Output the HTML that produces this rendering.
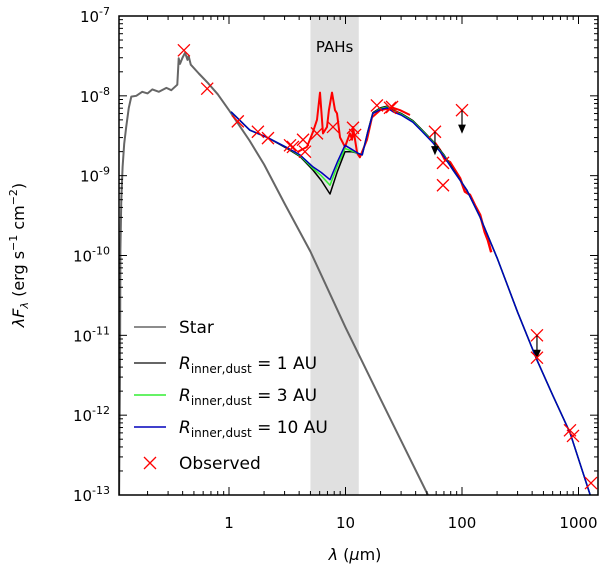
<!DOCTYPE html>
<html><head><meta charset="utf-8"><style>
body{margin:0;background:#fff}
svg{display:block;font-family:"DejaVu Sans","Liberation Sans",sans-serif}
</style></head><body>
<svg id="c" width="600" height="573" xmlns="http://www.w3.org/2000/svg"></svg>
<script>
const starLam=[0.114,0.116,0.117,0.119,0.122,0.126,0.131,0.138,0.145,0.16,0.18,0.2,0.22,0.25,0.29,0.32,0.36,0.37,0.38,0.40,0.42,0.44,0.45,0.47,0.55,0.66,0.8,1.0,1.5,2.0,3.0,5.0,10,20,51];
const starLogF=[-13,-11.5,-9.93,-9.3,-8.89,-8.6,-8.39,-8.15,-8.01,-8.0,-7.95,-7.97,-7.92,-7.95,-7.90,-7.93,-7.86,-7.53,-7.6,-7.52,-7.46,-7.55,-7.5,-7.61,-7.72,-7.84,-7.98,-8.18,-8.56,-8.86,-9.35,-9.95,-10.9,-11.8,-13];
const modLam=[1.04,1.51,2.12,3.15,4.07,5.26,6.2,7.36,8.5,9.9,11.3,12.8,13.9,15.5,17.2,20,22.7,25.6,30,37.9,45,56.4,70,83.7,110,143,200,300,440,600,845,1260];
const m1LogF=[-8.20,-8.43,-8.52,-8.66,-8.76,-8.93,-9.06,-9.23,-8.95,-8.70,-8.70,-8.72,-8.74,-8.45,-8.21,-8.15,-8.13,-8.18,-8.22,-8.31,-8.42,-8.57,-8.74,-8.92,-9.18,-9.52,-10.03,-10.71,-11.31,-11.75,-12.22,-13.0];
const m3LogF=[-8.20,-8.43,-8.52,-8.65,-8.75,-8.91,-9.0,-9.12,-8.88,-8.66,-8.69,-8.72,-8.74,-8.46,-8.22,-8.16,-8.14,-8.19,-8.23,-8.32,-8.43,-8.58,-8.75,-8.93,-9.18,-9.52,-10.03,-10.71,-11.31,-11.75,-12.22,-13.0];
const m10LogF=[-8.20,-8.43,-8.52,-8.65,-8.74,-8.89,-8.96,-9.05,-8.83,-8.62,-8.67,-8.72,-8.74,-8.46,-8.22,-8.17,-8.15,-8.20,-8.24,-8.33,-8.44,-8.59,-8.76,-8.93,-9.18,-9.52,-10.03,-10.71,-11.31,-11.75,-12.22,-13.0];
const irsLam=[3.91,4.67,5.26,5.69,6.04,6.41,6.94,7.21,7.66,8.13,8.45,8.97,9.9,10.9,11.4,11.6,12.6,13.3,15.3,16.9,19.8,25.6,29.4,35.8];
const irsLogF=[-8.70,-8.64,-8.45,-8.30,-7.96,-8.47,-8.39,-8.18,-7.96,-8.18,-8.22,-8.52,-8.64,-8.47,-8.55,-8.39,-8.72,-8.77,-8.55,-8.27,-8.18,-8.15,-8.18,-8.24];
const pacsLam=[58.6,64.7,71.4,78.9,87.1,96.1,106,117,129,143,157,167,178];
const pacsLogF=[-8.59,-8.68,-8.80,-8.83,-8.93,-9.03,-9.20,-9.24,-9.37,-9.49,-9.71,-9.81,-9.96];
const obsLam=[0.41,0.65,1.19,1.77,2.16,3.34,3.54,4.32,4.49,5.69,7.81,11.6,12.1,18.6,24.1,25.1,58.6,68.7,68.7,100,440,440,845,897,1280];
const obsLogF=[-7.43,-7.91,-8.32,-8.45,-8.53,-8.62,-8.64,-8.55,-8.70,-8.47,-8.39,-8.40,-8.49,-8.12,-8.15,-8.14,-8.45,-8.84,-9.12,-8.18,-11.0,-11.28,-12.19,-12.26,-12.85];
const upperIdx=[16,19,20];
const xTicks=[1,10,100,1000];
const yTicks=[-7,-8,-9,-10,-11,-12,-13];

const L=119,R=598,T=16,B=495;
const X=l=>229+116.5*Math.log10(l);
const Y=lf=>T+(-7-lf)*(B-T)/6;
const svg=document.getElementById('c');
const NS='http://www.w3.org/2000/svg';
function mk(tag,attrs,parent){const e=document.createElementNS(NS,tag);for(const k in attrs)e.setAttribute(k,attrs[k]);(parent||svg).appendChild(e);return e;}
const defs=mk('defs',{});const cp=mk('clipPath',{id:'clip'},defs);mk('rect',{x:L,y:T,width:R-L,height:B-T},cp);
const band=mk('rect',{x:X(5),y:T,width:X(13)-X(5),height:B-T,fill:'#e0e0e0'});


const pt=mk('text',{x:(X(5)+X(13))/2,y:52,'font-size':15,'text-anchor':'middle'});pt.textContent='PAHs';


const g=mk('g',{'clip-path':'url(#clip)'});
function line(lams,lfs,col,w,name){const d=lams.map((l,i)=>(i?'L':'M')+X(l).toFixed(1)+','+Y(lfs[i]).toFixed(1)).join('');const p=mk('path',{d:d,fill:'none',stroke:col,'stroke-width':w,'stroke-linejoin':'round'},g);

}
line(starLam,starLogF,'#666',2,'star-line');
line(irsLam,irsLogF,'#ff0000',2,'irs-spectrum');
line(pacsLam,pacsLogF,'#ff0000',2.5,'pacs-spectrum');
line(modLam,m1LogF,'#000',1.5,'model-1au');
line(modLam,m3LogF,'#33ee33',1.5,'model-3au');
line(modLam,m10LogF,'#0000bb',1.5,'model-10au');
obsLam.forEach((l,i)=>{const x=X(l),y=Y(obsLogF[i]),s=6;
const c=mk('path',{d:`M${x-s},${y-s}L${x+s},${y+s}M${x-s},${y+s}L${x+s},${y-s}`,stroke:'#ff0000','stroke-width':1.3,fill:'none'},g);


if(upperIdx.includes(i)){const a=mk('path',{d:`M${x},${y}L${x},${y+20}M${x-3},${y+15}L${x},${y+22}L${x+3},${y+15}Z`,stroke:'#000','stroke-width':1.2,fill:'#000'},g);

}});
const fr=mk('rect',{x:L,y:T,width:R-L,height:B-T,fill:'none',stroke:'#000','stroke-width':1.5});


for(let d=-1;d<=3;d++){for(let m=1;m<10;m++){const l=m*Math.pow(10,d);const x=X(l);if(x<L||x>R)continue;const len=m===1?8:4;
mk('line',{x1:x,y1:B,x2:x,y2:B-len,stroke:'#000','stroke-width':1});mk('line',{x1:x,y1:T,x2:x,y2:T+len,stroke:'#000','stroke-width':1});}}
xTicks.forEach(t=>{const tx=mk('text',{x:X(t),y:528,'font-size':15,'text-anchor':'middle'});tx.textContent=String(t);

});
for(let e=-13;e<-7;e++){for(let m=1;m<10;m++){const y=Y(e+Math.log10(m));const len=m===1?8:4;
mk('line',{x1:L,y1:y,x2:L+len,y2:y,stroke:'#000','stroke-width':1});mk('line',{x1:R,y1:y,x2:R-len,y2:y,stroke:'#000','stroke-width':1});}}
yTicks.forEach(t=>{const tx=mk('text',{x:110,y:Y(t)+6,'font-size':15,'text-anchor':'end'});tx.innerHTML='10<tspan dy="-7" font-size="11">'+t+'</tspan>';

});
const xt=mk('text',{x:355,y:560,'font-size':16,'text-anchor':'middle'});xt.innerHTML='<tspan font-style="italic">λ</tspan> (<tspan font-style="italic">μ</tspan>m)';


const yt=mk('text',{x:0,y:0,'font-size':16,'text-anchor':'middle',transform:'translate(24,255) rotate(-90)'});yt.innerHTML='<tspan font-style="italic">λF</tspan><tspan font-style="italic" font-size="11" dy="4">λ</tspan><tspan dy="-4"> (erg s</tspan><tspan font-size="11" dy="-7">−1</tspan><tspan dy="7"> cm</tspan><tspan font-size="11" dy="-7">−2</tspan><tspan dy="7">)</tspan>';


const leg=[['#666','Star',327],['#333','1',363],['#33ee33','3',395],['#0000bb','10',427]];
leg.forEach(([c,t,y],i)=>{const ln=mk('line',{x1:134,y1:y,x2:166,y2:y,stroke:c,'stroke-width':1.5});


const tx=mk('text',{x:179,y:y+6,'font-size':17});
if(i===0)tx.textContent='Star';else tx.innerHTML='<tspan font-style="italic">R</tspan><tspan font-size="12" dy="4">inner,dust</tspan><tspan dy="-4"> = '+t+' AU</tspan>';

});
const lx=150,ly=463;const lc=mk('path',{d:`M${lx-6},${ly-6}L${lx+6},${ly+6}M${lx-6},${ly+6}L${lx+6},${ly-6}`,stroke:'#ff0000','stroke-width':1.3});


const lo=mk('text',{x:179,y:469,'font-size':17});lo.textContent='Observed';


</script>
</body></html>
